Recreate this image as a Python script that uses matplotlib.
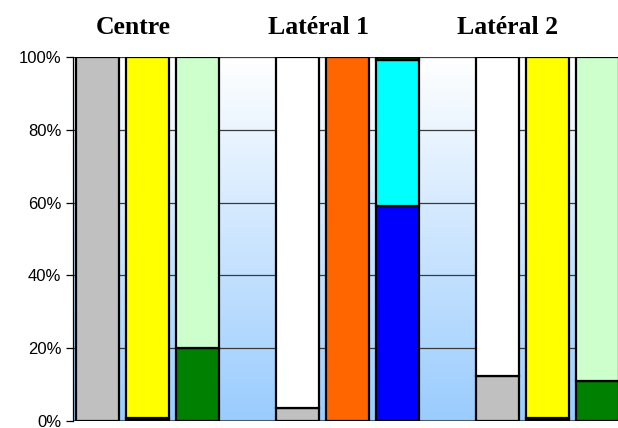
import numpy as np
import matplotlib
matplotlib.use("Agg")
import matplotlib.pyplot as plt
from matplotlib.colors import LinearSegmentedColormap

# Slot layout: three groups of three bars, with empty slots between groups
slots = [0, 1, 2, 4, 5, 6, 8, 9, 10]
groups = ["Centre", "Latéral 1", "Latéral 2"]

# Stacked shares (percent), bottom to top, one value per bar
gray = [100, 0, 0, 3.5, 0, 0, 12.5, 0, 0]
black = [0, 0.7, 0, 0, 0, 0, 0, 0.7, 0]
yellow = [0, 99.3, 0, 0, 0, 0, 0, 99.3, 0]
green = [0, 0, 20, 0, 0, 0, 0, 0, 11]
light_green = [0, 0, 80, 0, 0, 0, 0, 0, 89]
white = [0, 0, 0, 96.5, 0, 0, 87.5, 0, 0]
orange = [0, 0, 0, 0, 100, 0, 0, 0, 0]
blue = [0, 0, 0, 0, 0, 59, 0, 0, 0]
cyan = [0, 0, 0, 0, 0, 40.2, 0, 0, 0]
dark_green = [0, 0, 0, 0, 0, 0.8, 0, 0, 0]

series = [
    (gray, "#c0c0c0"),
    (black, "#000000"),
    (yellow, "#ffff00"),
    (green, "#008000"),
    (light_green, "#ccffcc"),
    (white, "#ffffff"),
    (orange, "#ff6600"),
    (blue, "#0000ff"),
    (cyan, "#00ffff"),
    (dark_green, "#003300"),
]

yticks = [0, 20, 40, 60, 80, 100]
ytick_labels = ["0%", "20%", "40%", "60%", "80%", "100%"]

W, H = 618, 428
fig = plt.figure(figsize=(W / 100, H / 100), dpi=100)
fig.patch.set_facecolor("white")
ax = fig.add_axes([72.5 / W, 7 / H, 550 / W, 364 / H])
ax.set_xlim(-0.5, 10.5)
ax.set_ylim(0, 100)

# Vertical gradient background: white at the top, light blue at the bottom
cmap = LinearSegmentedColormap.from_list("bg", ["#9accfe", "#ffffff"])
grad = np.linspace(0, 1, 256).reshape(-1, 1)
ax.imshow(grad, cmap=cmap, aspect="auto", origin="lower",
          extent=(-0.5, 10.5, 0, 100), zorder=0)

# Gridlines
for y in yticks[1:]:
    ax.axhline(y, color="#3a3a3a", lw=0.9, zorder=1)
ax.axhline(0, color="#4a5a6a", lw=1.5, zorder=1)

# Stacked bars
bottoms = np.zeros(len(slots))
for vals, col in series:
    vals = np.array(vals, dtype=float)
    for i, v in enumerate(vals):
        if v > 0:
            ax.bar(slots[i], v, bottom=bottoms[i], width=0.86, color=col,
                   edgecolor="black", linewidth=1.6, zorder=3)
    bottoms += vals

for s in ["top", "right", "bottom"]:
    ax.spines[s].set_visible(False)
ax.spines["left"].set_color("black")
ax.spines["left"].set_linewidth(0.9)
ax.set_xticks([])
ax.set_yticks(yticks)
ax.set_yticklabels(ytick_labels, fontfamily="Liberation Sans", fontsize=12)
ax.tick_params(axis="y", direction="out", length=5, width=0.9, pad=3)

# Group titles
title_x = [133, 318, 508]
for name, x in zip(groups, title_x):
    fig.text(x / W, 1 - 28 / H, name, ha="center", va="center",
             fontfamily="Liberation Serif", fontweight="bold", fontsize=18.5)

fig.savefig("out.png", dpi=100)
